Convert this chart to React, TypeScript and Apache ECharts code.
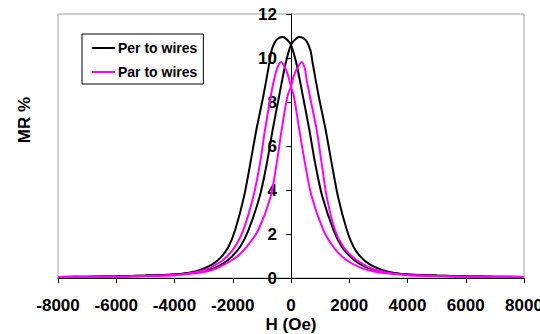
import { useEffect, useRef } from "react";
import * as echarts from "echarts";

// Per to wires — sweep with peak at negative field (left to right)
const perSweepAH = [-8000, -7000, -6000, -5000, -4000, -3500, -3100, -2700, -2400, -2146, -1917, -1614, -1397, -1190, -955, -745, -664, -540, -420, -285, -150, 0, 184, 412, 630, 830, 1075, 1460, 1745, 2050, 2318, 2650, 3000, 3500, 4000, 5000, 6000, 7000, 8000];
const perSweepAMR = [0.05, 0.06, 0.08, 0.11, 0.16, 0.24, 0.38, 0.62, 0.95, 1.42, 2.18, 3.7, 5.21, 6.73, 8.24, 9.76, 10.36, 10.75, 10.9, 10.95, 10.85, 10.6, 9.76, 8.24, 6.73, 5.21, 3.7, 2.18, 1.42, 0.95, 0.67, 0.45, 0.32, 0.22, 0.16, 0.11, 0.08, 0.06, 0.05];
// Per to wires — sweep with peak at positive field
const perSweepBH = [8000, 7000, 6000, 5000, 4000, 3500, 3100, 2700, 2400, 2146, 1917, 1614, 1397, 1190, 955, 745, 664, 540, 420, 285, 150, 0, -184, -412, -630, -830, -1075, -1460, -1745, -2050, -2318, -2650, -3000, -3500, -4000, -5000, -6000, -7000, -8000];
const perSweepBMR = [0.05, 0.06, 0.08, 0.11, 0.16, 0.24, 0.38, 0.62, 0.95, 1.42, 2.18, 3.7, 5.21, 6.73, 8.24, 9.76, 10.36, 10.75, 10.9, 10.95, 10.85, 10.6, 9.76, 8.24, 6.73, 5.21, 3.7, 2.18, 1.42, 0.95, 0.67, 0.45, 0.32, 0.22, 0.16, 0.11, 0.08, 0.06, 0.05];

// Par to wires — sweep with peak at negative field
const parSweepAH = [-8000, -7000, -6000, -5000, -4000, -3500, -3000, -2495, -2200, -1923, -1637, -1293, -1064, -893, -698, -584, -470, -340, -200, -100, 0, 103, 286, 481, 710, 1110, 1453, 1750, 2083, 2450, 2800, 3300, 4000, 5000, 6000, 7000, 8000];
const parSweepAMR = [0.04, 0.05, 0.06, 0.09, 0.14, 0.21, 0.35, 0.67, 0.98, 1.42, 2.18, 3.7, 5.21, 6.73, 8.24, 9.0, 9.55, 9.82, 9.55, 9.2, 8.7, 8.24, 6.73, 5.21, 3.7, 2.18, 1.42, 0.98, 0.67, 0.44, 0.31, 0.21, 0.13, 0.09, 0.06, 0.05, 0.04];
// Par to wires — sweep with peak at positive field
const parSweepBH = [8000, 7000, 6000, 5000, 4000, 3500, 3050, 2700, 2427, 2100, 1797, 1510, 1225, 1053, 881, 652, 538, 480, 367, 220, 100, 0, -126, -321, -493, -698, -1122, -1522, -1850, -2209, -2550, -2900, -3400, -4000, -5000, -6000, -7000, -8000];
const parSweepBMR = [0.04, 0.05, 0.06, 0.09, 0.14, 0.2, 0.32, 0.47, 0.67, 0.98, 1.42, 2.18, 3.7, 5.21, 6.73, 8.24, 9.0, 9.5, 9.82, 9.55, 9.2, 8.7, 8.24, 6.73, 5.21, 3.7, 2.18, 1.42, 0.98, 0.67, 0.44, 0.3, 0.2, 0.13, 0.09, 0.06, 0.05, 0.04];

const legendNames = ["Per to wires", "Par to wires"];
const xTitle = "H (Oe)";
const yTitle = "MR %";

const FONT = "'Liberation Sans', Arial, sans-serif";

const pairs = (xs: number[], ys: number[]) => xs.map((x, i) => [x, ys[i]]);

export default function App() {
  const ref = useRef<HTMLDivElement>(null);
  useEffect(() => {
    if (!ref.current) return;
    const chart = echarts.init(ref.current, null, { renderer: "svg" });
    const lineSeries = (name: string, data: number[][], color: string) => ({
      type: "line",
      name,
      data,
      symbol: "none",
      showSymbol: false,
      smooth: 0.3,
      lineStyle: { color, width: 2 },
      itemStyle: { color },
    });
    const titleStyle = {
      fontSize: 17,
      fontWeight: "bold",
      fill: "#000",
      textAlign: "center",
      textVerticalAlign: "middle",
      fontFamily: FONT,
    };
    chart.setOption({
      animation: false,
      backgroundColor: "#ffffff",
      textStyle: { fontFamily: FONT },
      grid: {
        left: 58,
        right: 16,
        top: 14,
        bottom: 56,
        show: true,
        borderColor: "#a0a0a0",
        borderWidth: 1,
        backgroundColor: "transparent",
        containLabel: false,
        outerBoundsMode: "none",
      },
      legend: {
        data: legendNames,
        orient: "vertical",
        left: 82,
        top: 34,
        padding: [7, 6, 5, 10],
        itemGap: 10,
        itemWidth: 23,
        itemHeight: 2,
        icon: "rect",
        backgroundColor: "#ffffff",
        borderColor: "#000000",
        borderWidth: 1,
        borderRadius: 0,
        textStyle: { fontSize: 14, fontWeight: "bold", color: "#000", fontFamily: FONT, padding: [0, 0, 0, -2] },
      },
      xAxis: {
        type: "value",
        min: -8000,
        max: 8000,
        interval: 2000,
        axisLine: { onZero: false, lineStyle: { color: "#000", width: 1 } },
        axisTick: { show: true, length: 5, lineStyle: { color: "#000" } },
        splitLine: { show: false },
        axisLabel: {
          fontSize: 17,
          fontWeight: "bold",
          color: "#000",
          margin: 19,
          fontFamily: FONT,
          formatter: (v: number) => String(v),
        },
      },
      yAxis: {
        type: "value",
        min: 0,
        max: 12,
        interval: 2,
        offset: -233,
        axisLine: { show: true, onZero: false, lineStyle: { color: "#000", width: 1 } },
        axisTick: { show: true, length: 5, lineStyle: { color: "#000" } },
        splitLine: { show: false },
        axisLabel: { fontSize: 17, fontWeight: "bold", color: "#000", margin: 14, fontFamily: FONT },
      },
      graphic: [
        {
          type: "text",
          x: 24,
          y: 120,
          rotation: Math.PI / 2,
          style: { ...titleStyle, text: yTitle },
        },
        {
          type: "text",
          x: 291,
          y: 324,
          style: { ...titleStyle, text: xTitle },
        },
      ],
      series: [
        lineSeries(legendNames[0], pairs(perSweepAH, perSweepAMR), "#000000"),
        lineSeries(legendNames[0], pairs(perSweepBH, perSweepBMR), "#000000"),
        lineSeries(legendNames[1], pairs(parSweepAH, parSweepAMR), "#ff00ff"),
        lineSeries(legendNames[1], pairs(parSweepBH, parSweepBMR), "#ff00ff"),
      ],
    });
    return () => chart.dispose();
  }, []);
  return (
    <div
      ref={ref}
      style={{ position: "fixed", left: 0, top: 0, width: 540, height: 334 }}
    />
  );
}
